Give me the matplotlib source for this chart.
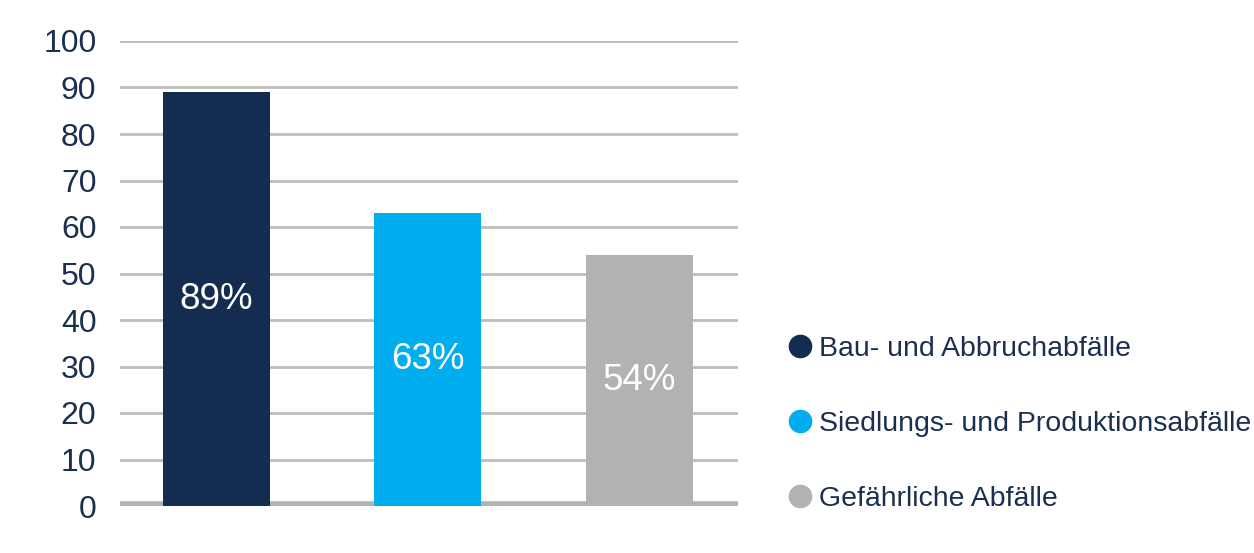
import matplotlib
matplotlib.use("Agg")
import matplotlib.pyplot as plt
from matplotlib.lines import Line2D

categories = ["Bau- und Abbruchabfälle", "Siedlungs- und Produktionsabfälle", "Gefährliche Abfälle"]
values = [89, 63, 54]
labels = ["89%", "63%", "54%"]
colors = ["#132C50", "#00AEEF", "#B1B2B4"]
yticks = [0, 10, 20, 30, 40, 50, 60, 70, 80, 90, 100]

text_color = "#1B2F50"
plt.rcParams['font.family'] = ['Liberation Sans', 'DejaVu Sans']

fig = plt.figure(figsize=(12.54, 5.53), dpi=100)
ax = fig.add_axes([120/1254, 1-506/553, (738-120)/1254, (506-41)/553])

x = list(range(len(values)))
ax.bar(x, values, width=0.506, color=colors, zorder=3)
for xi, v, lab in zip(x, values, labels):
    ax.text(xi, v/2, lab, ha='center', va='center', color='white', fontsize=26.5, zorder=4)

ax.set_xlim(-0.456, 2.466)
ax.set_ylim(0, 100)
ax.set_yticks(yticks)
ax.set_yticklabels([str(t) for t in yticks])
ax.set_xticks([])
ax.tick_params(axis='y', length=0, labelsize=23, labelcolor=text_color, pad=17)
for s in ax.spines.values():
    s.set_visible(False)
ax.grid(axis='y', color='#BDBDBF', linewidth=2, zorder=1)
ax.axhline(0.35, color='#B1B2B4', linewidth=4, zorder=2)

handles = [Line2D([0], [0], marker='o', linestyle='none', markersize=16,
                  markerfacecolor=c, markeredgecolor=c) for c in colors]
leg = fig.legend(handles, categories, loc='center left', bbox_to_anchor=(772/1254, 1-424/553),
                 frameon=False, fontsize=20.5, labelspacing=1.73, handletextpad=0.05,
                 handlelength=1.2, borderaxespad=0)
for t in leg.get_texts():
    t.set_color(text_color)

fig.savefig("out.png", dpi=100)
